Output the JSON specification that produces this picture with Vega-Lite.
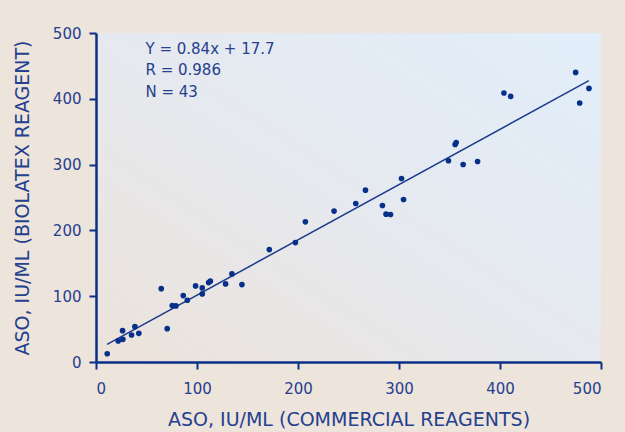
{
  "$schema": "https://vega.github.io/schema/vega-lite/v6.json",
  "width": 505,
  "height": 329,
  "autosize": {"type": "none"},
  "padding": {"left": 96, "top": 33, "right": 24, "bottom": 70},
  "background": "#ede4dc",
  "config": {
    "view": {
      "stroke": null,
      "fill": {
        "gradient": "linear",
        "x1": 0, "y1": 1, "x2": 1, "y2": 0,
        "stops": [
          {"offset": 0, "color": "#ece3da"},
          {"offset": 0.5, "color": "#e6e9ef"},
          {"offset": 1, "color": "#e1eefa"}
        ]
      }
    },
    "font": "DejaVu Sans",
    "axis": {
      "grid": false,
      "domainColor": "#0c2f86",
      "domainWidth": 2.5,
      "tickColor": "#0c2f86",
      "tickWidth": 2,
      "tickSize": 7,
      "labelColor": "#24408e",
      "labelFont": "DejaVu Sans",
      "labelFontSize": 15,
      "titleColor": "#24408e",
      "titleFont": "DejaVu Sans",
      "titleFontSize": 19,
      "titleFontWeight": "normal"
    }
  },
  "datasets": {
    "points": [
      {"commercial": 11.1, "biolatex": 12.6},
      {"commercial": 22.0, "biolatex": 32.0},
      {"commercial": 26.3, "biolatex": 47.6},
      {"commercial": 26.6, "biolatex": 34.5},
      {"commercial": 35.2, "biolatex": 41.0},
      {"commercial": 38.5, "biolatex": 53.7},
      {"commercial": 42.4, "biolatex": 43.6},
      {"commercial": 64.6, "biolatex": 111.5},
      {"commercial": 70.5, "biolatex": 50.7},
      {"commercial": 75.5, "biolatex": 85.7},
      {"commercial": 79.1, "biolatex": 85.2},
      {"commercial": 86.4, "biolatex": 100.9},
      {"commercial": 90.4, "biolatex": 93.8},
      {"commercial": 98.6, "biolatex": 115.6},
      {"commercial": 105.2, "biolatex": 112.6},
      {"commercial": 105.2, "biolatex": 103.5},
      {"commercial": 111.5, "biolatex": 120.7},
      {"commercial": 113.2, "biolatex": 122.8},
      {"commercial": 128.3, "biolatex": 118.7},
      {"commercial": 134.6, "biolatex": 133.9},
      {"commercial": 144.5, "biolatex": 117.6},
      {"commercial": 171.6, "biolatex": 170.9},
      {"commercial": 197.4, "biolatex": 181.5},
      {"commercial": 207.3, "biolatex": 213.0},
      {"commercial": 235.7, "biolatex": 229.3},
      {"commercial": 257.2, "biolatex": 240.9},
      {"commercial": 266.8, "biolatex": 261.2},
      {"commercial": 283.6, "biolatex": 237.8},
      {"commercial": 287.2, "biolatex": 224.7},
      {"commercial": 291.6, "biolatex": 224.1},
      {"commercial": 304.5, "biolatex": 246.9},
      {"commercial": 302.5, "biolatex": 278.9},
      {"commercial": 349.0, "biolatex": 305.8},
      {"commercial": 355.6, "biolatex": 330.6},
      {"commercial": 356.6, "biolatex": 333.6},
      {"commercial": 363.5, "biolatex": 300.2},
      {"commercial": 377.8, "biolatex": 304.7},
      {"commercial": 403.9, "biolatex": 408.8},
      {"commercial": 410.5, "biolatex": 403.6},
      {"commercial": 474.9, "biolatex": 440.1},
      {"commercial": 478.9, "biolatex": 393.6},
      {"commercial": 488.1, "biolatex": 415.8}
    ],
    "fit": [
      {"commercial": 11, "biolatex": 26.9},
      {"commercial": 488, "biolatex": 427.6}
    ]
  },
  "layer": [
    {
      "data": {"name": "fit"},
      "mark": {"type": "line", "color": "#1c3a8e", "strokeWidth": 1.5},
      "encoding": {
        "x": {
          "field": "commercial", "type": "quantitative",
          "scale": {"domain": [0, 500], "nice": false},
          "axis": {
            "title": "ASO, IU/ML (COMMERCIAL REAGENTS)",
            "values": [0, 100, 200, 300, 400, 500],
            "labelPadding": 12,
            "titlePadding": 14
          }
        },
        "y": {
          "field": "biolatex", "type": "quantitative",
          "scale": {"domain": [0, 500], "nice": false},
          "axis": {
            "title": "ASO, IU/ML (BIOLATEX REAGENT)",
            "values": [0, 100, 200, 300, 400, 500],
            "labelPadding": 8,
            "titlePadding": 20
          }
        }
      }
    },
    {
      "data": {"name": "points"},
      "mark": {"type": "point", "filled": true, "shape": "circle", "size": 32, "color": "#07308a", "opacity": 1},
      "encoding": {
        "x": {"field": "commercial", "type": "quantitative"},
        "y": {"field": "biolatex", "type": "quantitative"}
      }
    },
    {
      "data": {"values": [{}]},
      "mark": {
        "type": "text",
        "align": "left",
        "baseline": "middle",
        "fontSize": 15,
        "lineHeight": 21.5,
        "color": "#24408e",
        "font": "DejaVu Sans"
      },
      "encoding": {
        "x": {"datum": 49},
        "y": {"datum": 476},
        "text": {"value": ["Y = 0.84x + 17.7", "R = 0.986", "N = 43"]}
      }
    }
  ]
}
